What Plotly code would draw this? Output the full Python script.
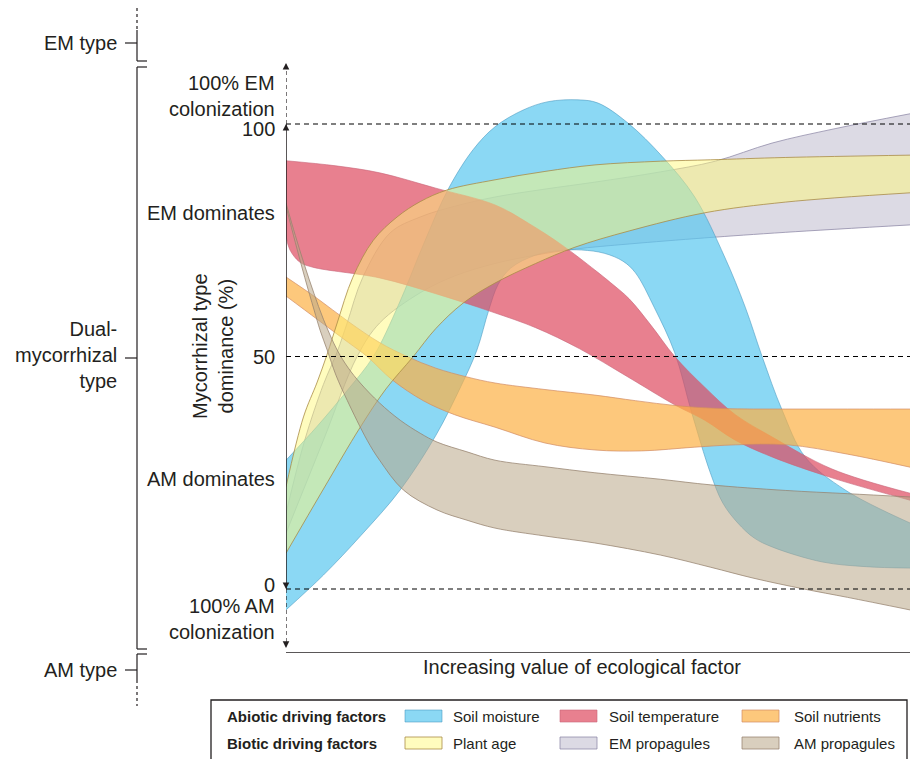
import plotly.graph_objects as go

# ---------------------------------------------------------------------------
# Band boundaries (x = relative value of the ecological factor, 0-100;
# y = mycorrhizal type dominance, % EM)
# ---------------------------------------------------------------------------
moisture_x_lo = [0, 6, 12, 18.3, 24, 28, 30.6, 32.5, 34, 36, 40, 44, 47.4, 51, 54, 56, 59, 62.3, 65, 68, 70, 72.4, 75, 78, 86, 93, 100]
moisture_lo = [-4.5, 3, 11.5, 21.3, 33, 43.5, 51.4, 60, 65.5, 69, 71.8, 72.8, 72.9, 72.2, 70.5, 68, 60.6, 50.8, 38, 25, 18.5, 14.2, 11, 9, 5.8, 4.8, 4.5]
moisture_x_hi = [0, 5, 10, 14, 18, 22, 26, 30, 33.5, 38, 42, 46.8, 50, 54.8, 60.3, 65.5, 70.3, 73.6, 76.3, 79.5, 83.2, 89.6, 100]
moisture_hi = [27.7, 35, 43, 50, 61, 74, 86, 94.5, 99.4, 103, 104.8, 105.2, 104.5, 100.2, 93, 84.3, 71.4, 60.6, 50, 38.5, 28.4, 21.3, 14.2]

temperature_x_lo = [0, 0.6, 2.2, 4.3, 15, 24, 33, 40, 47, 54.8, 62.3, 67.1, 72, 77.9, 87.5, 100]
temperature_lo = [76, 73, 70.3, 69.2, 66.9, 63.5, 59.6, 56.2, 51.7, 45.6, 39.6, 36.3, 32, 28.4, 23.9, 19.1]
temperature_x_hi = [0, 8, 15, 24, 33.5, 38.8, 44.2, 49.5, 52, 55, 58.5, 62.3, 67.1, 72, 77.9, 87.5, 100]
temperature_hi = [92.1, 91, 89.5, 86.2, 82.6, 78.7, 74, 68.6, 65.9, 62.4, 56.7, 50, 43.4, 37.5, 32.7, 25.8, 20.6]

nutrients_x_lo = [0, 5, 10, 13, 17, 22, 27, 33.5, 41.5, 49.5, 57, 65.5, 72, 80.4, 90, 100]
nutrients_lo = [63, 58, 53, 50, 45, 40.5, 37.5, 34.8, 31.4, 29.9, 29.7, 30.5, 31, 31, 29, 26.2]
nutrients_x_hi = [0, 5, 10, 15, 19.4, 24, 29, 33.5, 41.5, 49.5, 56, 62.8, 70, 80, 90, 100]
nutrients_hi = [67.1, 62.5, 57.5, 53, 50, 47.5, 45.6, 44.3, 42.9, 41.7, 40.5, 39.4, 38.8, 38.7, 38.7, 38.7]

plant_age_x_lo = [0, 6, 11.9, 16, 20.4, 24, 28.4, 33.5, 40, 46.3, 55, 67.1, 80, 100]
plant_age_lo = [7.7, 21.5, 34.8, 43, 50, 56, 61.5, 65.8, 70, 73.5, 77, 80.9, 83.2, 85.2]
plant_age_x_hi = [0, 2.8, 5, 6.6, 8.2, 10.7, 14, 17.8, 21.5, 25.8, 33.5, 41.5, 49.5, 60, 68, 80, 100]
plant_age_hi = [22, 37, 44.5, 50.5, 57.2, 67, 75, 80, 83.3, 85.8, 88, 89.8, 91.2, 92, 92.3, 92.8, 93.3]

em_prop_x_lo = [0, 6, 11.4, 15, 21.5, 27, 33.5, 40, 46.3, 55, 67.1, 80, 100]
em_prop_lo = [12, 32, 50, 57.2, 63.7, 67.3, 70, 71.8, 73.1, 74.2, 75.5, 76.7, 78.3]
em_prop_x_hi = [0, 3, 6, 8.2, 9.8, 12.3, 16.7, 21.5, 27, 33.5, 41.5, 49.5, 60, 68.8, 77.9, 88, 100]
em_prop_hi = [16.3, 32, 44, 51, 57.2, 67, 76.6, 80, 82.3, 84.3, 86, 87.5, 89.7, 92, 95.9, 99, 102.2]

am_prop_x_lo = [0, 1.5, 3, 4.5, 5.5, 6.6, 8, 9.8, 13, 15, 18.8, 24.2, 29, 33.5, 41.5, 49.5, 60, 68, 75, 83, 90, 100]
am_prop_lo = [82.3, 74.5, 67, 60, 55.5, 51.4, 46, 40.6, 32, 27.7, 21.3, 17, 14.8, 13.1, 11.4, 9.9, 7.3, 4.7, 2.3, 0, -1.8, -4.5]
am_prop_x_hi = [0, 1.5, 3, 4.5, 6, 8.2, 10, 11.9, 15, 18.3, 21.5, 24.2, 29, 33.5, 41.5, 49.5, 60, 68, 80, 90, 100]
am_prop_hi = [83, 76, 69.5, 63.5, 58, 51.4, 47.5, 44.3, 40, 36.3, 33.5, 31.6, 29.5, 27.7, 26.3, 25, 23.6, 22.4, 21.2, 20.5, 19.8]

# Axis annotations
y_ticks = [0, 50, 100]
y_tick_text = ["0", "50", "100"]
legend_rows = ["Abiotic driving factors", "Biotic driving factors"]

# ---------------------------------------------------------------------------
# Styles
# ---------------------------------------------------------------------------
FILL = {
    "Soil moisture": "rgba(90,200,240,0.70)",
    "Soil temperature": "rgba(222,74,95,0.70)",
    "Soil nutrients": "rgba(252,176,69,0.70)",
    "Plant age": "rgba(255,249,122,0.49)",
    "EM propagules": "rgba(185,181,201,0.50)",
    "AM propagules": "rgba(186,168,137,0.55)",
}
EDGE = {
    "Soil moisture": "rgba(70,150,190,0.55)",
    "Soil temperature": "rgba(200,100,120,0.6)",
    "Soil nutrients": "rgba(210,140,100,0.7)",
    "Plant age": "rgba(170,140,70,0.8)",
    "EM propagules": "rgba(140,135,165,0.75)",
    "AM propagules": "rgba(150,130,110,0.75)",
}

bands = [
    ("EM propagules", em_prop_x_lo, em_prop_lo, em_prop_x_hi, em_prop_hi),
    ("Soil moisture", moisture_x_lo, moisture_lo, moisture_x_hi, moisture_hi),
    ("Soil temperature", temperature_x_lo, temperature_lo, temperature_x_hi, temperature_hi),
    ("Soil nutrients", nutrients_x_lo, nutrients_lo, nutrients_x_hi, nutrients_hi),
    ("Plant age", plant_age_x_lo, plant_age_lo, plant_age_x_hi, plant_age_hi),
    ("AM propagules", am_prop_x_lo, am_prop_lo, am_prop_x_hi, am_prop_hi),
]
legend_items = [
    ["Soil moisture", "Soil temperature", "Soil nutrients"],
    ["Plant age", "EM propagules", "AM propagules"],
]

W, H = 919, 759
ML, MR, MT, MB = 286, 9, 62, 106
Y_PER_PX = 1 / 4.65
Y_MAX = (589 - MT) * Y_PER_PX
Y_MIN = (589 - (H - MB)) * Y_PER_PX
FONT = "Liberation Sans, Arial, sans-serif"
INK = "#231f20"


def fx(px):
    return (px - ML) / (W - ML - MR)


def fy(py):
    return (H - MB - py) / (H - MT - MB)


fig = go.Figure()

for name, xl, yl, xh, yh in bands:
    fig.add_trace(go.Scatter(
        x=xl, y=yl, mode="lines", line=dict(color=EDGE[name], width=1, shape="spline"),
        hoverinfo="skip", showlegend=False))
    fig.add_trace(go.Scatter(
        x=xh, y=yh, mode="lines", line=dict(color=EDGE[name], width=1, shape="spline"),
        fill="tonexty", fillcolor=FILL[name], name=name, showlegend=False))

shapes = []
annotations = []

# Dashed reference levels
for v in y_ticks:
    shapes.append(dict(type="line", xref="x", yref="y", x0=0, x1=100, y0=v, y1=v,
                       line=dict(color="black", width=1.2, dash="5px,4px"), layer="above"))

# Vertical axis: solid between 0 and 100, dashed beyond
shapes.append(dict(type="line", xref="x", yref="y", x0=0, x1=0, y0=0, y1=100,
                   line=dict(color=INK, width=1.5), layer="above"))
shapes.append(dict(type="line", xref="x", yref="y", x0=0, x1=0, y0=100, y1=Y_MAX - 0.6,
                   line=dict(color=INK, width=1.2, dash="4px,3px"), layer="above"))
shapes.append(dict(type="line", xref="x", yref="y", x0=0, x1=0, y0=0, y1=Y_MIN + 1.6,
                   line=dict(color=INK, width=1.2, dash="4px,3px"), layer="above"))
# Horizontal axis
shapes.append(dict(type="line", xref="x", yref="y", x0=0, x1=100, y0=Y_MIN, y1=Y_MIN,
                   line=dict(color=INK, width=1.5), layer="above"))


def arrow(x, y, ax, ay):
    annotations.append(dict(x=x, y=y, xref="x", yref="y", ax=ax, ay=ay, text="",
                            showarrow=True, arrowhead=2, arrowsize=1.1, arrowwidth=1.2,
                            arrowcolor=INK))


arrow(0, 100, 0, 7)
arrow(0, Y_MAX - 0.2, 0, 7)
arrow(0, 0, 0, -7)
arrow(0, Y_MIN + 1.1, 0, -7)
arrow(100.6, Y_MIN, -8, 0)

# Left-side labels
TXT = dict(family=FONT, size=20, color=INK)


def label(text, px, py, xanchor="right", align="right", size=20, bold=False):
    annotations.append(dict(text=f"<b>{text}</b>" if bold else text, x=fx(px), y=fy(py),
                            xref="paper", yref="paper", xanchor=xanchor, yanchor="middle",
                            align=align, showarrow=False,
                            font=dict(family=FONT, size=size, color=INK)))


label("100% EM<br>colonization", 277, 96)
for v, t in zip(y_ticks, y_tick_text):
    label(t, 277, 589 - v / Y_PER_PX + (5 if v == 100 else (-4 if v == 0 else 0)))
label("EM dominates", 277, 213)
label("AM dominates", 277, 479)
label("100% AM<br>colonization", 277, 619)

annotations.append(dict(text="Mycorrhizal type<br>dominance (%)", x=fx(213), y=fy(346),
                        xref="paper", yref="paper", textangle=-90, showarrow=False,
                        xanchor="center", yanchor="middle", font=TXT))
annotations.append(dict(text="Increasing value of ecological factor", x=fx(582), y=fy(667),
                        xref="paper", yref="paper", showarrow=False,
                        xanchor="center", yanchor="middle", font=TXT))

# Type brackets on the far left
BX, HX, TX = 137, 147, 125


def pline(x0, y0, x1, y1, dash=None, w=1.2):
    shapes.append(dict(type="line", xref="paper", yref="paper",
                       x0=fx(x0), y0=fy(y0), x1=fx(x1), y1=fy(y1),
                       line=dict(color=INK, width=w, dash=dash)))


pline(BX, 8, BX, 30, dash="dot")
pline(BX, 30, BX, 61)
pline(BX, 61, HX, 61)
pline(BX, 43, TX, 43)
pline(BX, 67, HX, 67)
pline(BX, 67, BX, 649)
pline(BX, 649, HX, 649)
pline(BX, 358, TX, 358)
pline(BX, 654, HX, 654)
pline(BX, 654, BX, 680)
pline(BX, 680, BX, 706, dash="dot")
pline(BX, 670, TX, 670)

label("EM type", 119, 43)
label("Dual-<br>mycorrhizal<br>type", 119, 355)
label("AM type", 119, 670)

# Legend box
shapes.append(dict(type="rect", xref="paper", yref="paper",
                   x0=fx(211), x1=fx(907), y0=fy(762), y1=fy(700),
                   line=dict(color=INK, width=1.3), fillcolor="white"))
row_y = [716, 743]
sw_x = [405, 560, 742]
lab_x = [451, 607, 792]
for r, (head, items) in enumerate(zip(legend_rows, legend_items)):
    label(head, 225, row_y[r], xanchor="left", align="left", size=15, bold=True)
    for c, name in enumerate(items):
        shapes.append(dict(type="rect", xref="paper", yref="paper",
                           x0=fx(sw_x[c]), x1=fx(sw_x[c] + 37),
                           y0=fy(row_y[r] + 6), y1=fy(row_y[r] - 6),
                           line=dict(color=EDGE[name], width=1), fillcolor=FILL[name]))
        label(name, lab_x[c], row_y[r], xanchor="left", align="left", size=15)

fig.update_layout(
    width=W, height=H,
    margin=dict(l=ML, r=MR, t=MT, b=MB),
    paper_bgcolor="white", plot_bgcolor="white",
    showlegend=False,
    xaxis=dict(range=[0, 100], visible=False, fixedrange=True),
    yaxis=dict(range=[Y_MIN, Y_MAX], visible=False, fixedrange=True),
    shapes=shapes,
    annotations=annotations,
)

fig.write_html("out.html")
